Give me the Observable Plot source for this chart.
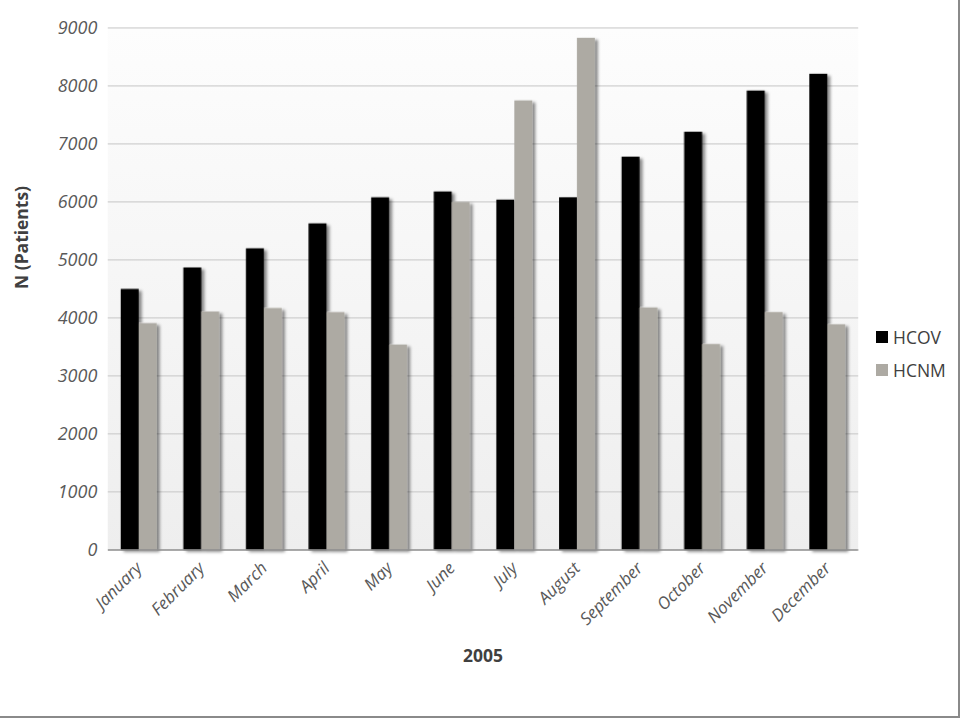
<!DOCTYPE html>
<html><head><meta charset="utf-8">
<script src="https://cdn.jsdelivr.net/npm/d3@7"></script>
<script src="https://cdn.jsdelivr.net/npm/@observablehq/plot@0.6"></script>
<style>
body{margin:0;background:#fff;}
#wrap{position:relative;width:958px;height:716px;border-right:2px solid #8a8a8a;border-bottom:2px solid #8a8a8a;overflow:hidden;}
#wrap svg text{font-style:italic;}
#wrap svg text.lbl{font-style:normal;font-weight:bold;}
.legend{position:absolute;left:876px;top:320px;font-family:'Open Sans',sans-serif;font-size:17.5px;color:#404040;}
.legend div{display:flex;align-items:center;height:33px;}
.legend span.sw{display:inline-block;width:12px;height:12px;margin-right:5px;}
</style></head><body><div id="wrap"></div>
<script>
const months = ["January","February","March","April","May","June","July","August","September","October","November","December"];
const series = ["HCOV","HCNM"];
const hcov = [4500,4870,5200,5630,6080,6180,6040,6080,6780,7210,7920,8210];
const hcnm = [3910,4110,4170,4100,3540,6000,7750,8830,4180,3550,4100,3890];
const colors = ["#000000","#adaaa3"];
const yTicks = [0,1000,2000,3000,4000,5000,6000,7000,8000,9000];
const yLabel = "N (Patients)";
const xLabel = "2005";

const data = months.flatMap((m,i)=>[
  {month:m, series:"HCOV", value:hcov[i]},
  {month:m, series:"HCNM", value:hcnm[i]}
]);

const W = 960, H = 720, mL = 108, mR = 100, mT = 28, mB = 169;
const plot = Plot.plot({
  width:W, height:H, marginLeft:mL, marginRight:mR, marginTop:mT, marginBottom:mB,
  style:{fontFamily:"'Open Sans', sans-serif", fontSize:"17px", background:"transparent", color:"#595959"},
  fx:{domain:months, paddingInner:0.426, paddingOuter:0.207, round:false, label:null, tickRotate:-45, tickSize:0, tickPadding:15},
  x:{domain:series, axis:null, padding:0, round:false},
  y:{domain:[0,9000], ticks:yTicks, label:null, tickSize:0, tickPadding:24, tickFormat:d=>String(d)},
  color:{domain:series, range:colors},
  marks:[
    Plot.barY(data,{fx:"month", x:"series", y:"value", fill:"series"})
  ]
});

const svg = d3.select(plot);
const ys = plot.scale("y");
const bg = svg.insert("g", ":first-child");
const defs = svg.insert("defs", ":first-child");
const grad = defs.append("linearGradient").attr("id","bgGrad").attr("x1",0).attr("y1",0).attr("x2",0).attr("y2",1);
grad.append("stop").attr("offset","0%").attr("stop-color","#fdfdfd");
grad.append("stop").attr("offset","100%").attr("stop-color","#eeeeee");
const flt = defs.append("filter").attr("id","shadow").attr("x","-20%").attr("y","-5%").attr("width","160%").attr("height","110%");
flt.append("feDropShadow").attr("dx",3).attr("dy",2).attr("stdDeviation",1.6).attr("flood-color","#000").attr("flood-opacity",0.45);

const yTop = ys.apply(yTicks[yTicks.length-1]), yBot = ys.apply(0);
bg.append("rect").attr("x",mL).attr("y",yTop).attr("width",W-mL-mR).attr("height",yBot-yTop).attr("fill","url(#bgGrad)");
bg.selectAll("line").data(yTicks.filter(d=>d>0)).join("line")
  .attr("x1",mL).attr("x2",W-mR).attr("y1",d=>ys.apply(d)).attr("y2",d=>ys.apply(d))
  .attr("stroke","#c6c6c6").attr("stroke-width",1);

svg.selectAll('g[aria-label="bar"]').attr("filter","url(#shadow)");
svg.selectAll('g[aria-label="y-axis tick label"] text, g[aria-label="y-axis"] text').attr("font-size",18);

svg.append("line").attr("x1",mL).attr("x2",W-mR).attr("y1",yBot).attr("y2",yBot).attr("stroke","#8c8c8c").attr("stroke-width",1.5);

svg.append("text").attr("class","lbl").attr("transform","translate(22,238) rotate(-90)")
  .attr("text-anchor","middle").attr("dy","0.35em").attr("fill","#404040")
  .attr("font-family","'Open Sans', sans-serif").attr("font-size",17.5).text(yLabel);
svg.append("text").attr("class","lbl").attr("x",(mL+W-mR)/2).attr("y",663)
  .attr("text-anchor","middle").attr("fill","#404040")
  .attr("font-family","'Open Sans', sans-serif").attr("font-size",17.5).text(xLabel);

const wrap = document.getElementById("wrap");
wrap.appendChild(plot);
const leg = document.createElement("div");
leg.className = "legend";
series.forEach((s,i)=>{
  const row = document.createElement("div");
  row.innerHTML = `<span class="sw" style="background:${colors[i]}"></span>${s}`;
  leg.appendChild(row);
});
wrap.appendChild(leg);
</script>
</body></html>
